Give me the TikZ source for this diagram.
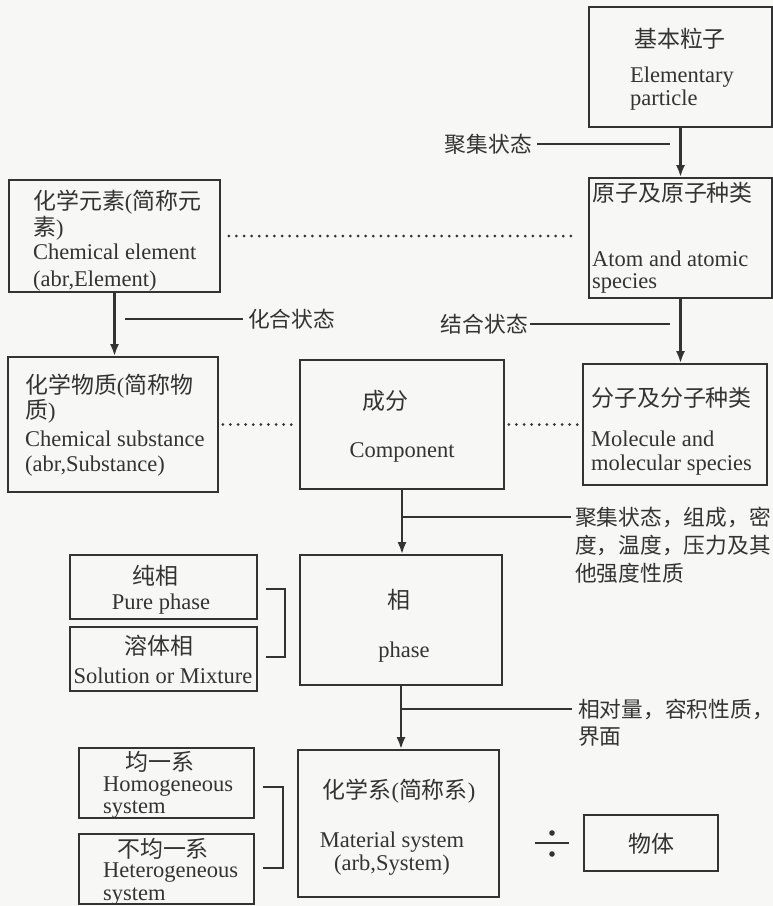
\documentclass[tikz,border=0pt]{standalone}
\usepackage{fontspec}
\setmainfont{Liberation Serif}
\newfontfamily\cjk[Scale=1.02]{Noto Sans CJK SC}
\usetikzlibrary{fit,calc,arrows.meta}
\definecolor{ink}{HTML}{333333}
\definecolor{bg}{HTML}{F7F7F5}
\newcommand\TL[4][base west]{\node[txt,anchor=#1] (#2) at (#3) {#4};}
\newcommand\BX[3]{\node[box,fit={(#2) (#3)}] (#1) {};}
\tikzset{
  txt/.style={inner sep=0pt,text=ink,font=\fontsize{22.5}{24}\selectfont},
  lab/.style={txt,font=\fontsize{21.3}{24}\selectfont},
  box/.style={draw=ink,line width=1.7pt,inner sep=0pt},
  arr/.style={draw=ink,line width=2.3pt,-{Latex[length=12pt,width=9pt]}},
  ln/.style={draw=ink,line width=2.3pt},
  brk/.style={draw=ink,line width=2.2pt},
  dot/.style={draw=ink,line width=3pt,line cap=round,dash pattern=on 0pt off 7.6pt}
}
\begin{document}
\begin{tikzpicture}[x=1pt,y=-1pt]
\useasboundingbox[fill=bg] (0,0) rectangle (773,906);
% boxes
\BX{b1}{589,7}{772,127}
\BX{b2}{589,178}{772,298}
\BX{b3}{583,364}{767,485}
\BX{ce}{9,180}{220,292}
\BX{cs}{8,357}{218,492}
\BX{comp}{300,360}{504,489}
\BX{phase}{300,555}{502,685}
\BX{pure}{70,555}{257,619}
\BX{sol}{70,627}{257,691}
\BX{ms}{298,750}{499,897}
\BX{homo}{79,748}{254,818}
\BX{het}{79,834}{254,904}
\BX{wt}{584,815}{718,871}
% texts
\TL[base]{t1a}{680,47}{\cjk 基本粒子}
\TL{t1b}{630,82}{Elementary}
\TL{t1c}{630,105}{particle}
\TL{t2a}{592,201}{\cjk 原子及原子种类}
\TL{t2b}{592,266}{Atom and atomic}
\TL{t2c}{592,288}{species}
\TL{t3a}{591,406}{\cjk 分子及分子种类}
\TL{t3b}{591,446}{Molecule and}
\TL{t3c}{591,470}{molecular species}
\TL{tca}{33,209}{{\cjk 化学元素}({\cjk 简称元}}
\TL{tcb}{33,235}{{\cjk 素})}
\TL{tcc}{33,259}{Chemical element}
\TL{tcd}{33,286}{(abr,Element)}
\TL{tsa}{25,393}{{\cjk 化学物质}({\cjk 简称物}}
\TL{tsb}{25,418}{{\cjk 质})}
\TL{tsc}{25,446}{Chemical substance}
\TL{tsd}{25,471}{(abr,Substance)}
\TL{tka}{362,409}{\cjk 成分}
\TL[base]{tkb}{402,457}{Component}
\TL[base]{tpa}{399,608}{\cjk 相}
\TL[base]{tpb}{404,657}{phase}
\TL[base]{tua}{155,584}{\cjk 纯相}
\TL[base]{tub}{161,609}{Pure phase}
\TL[base]{tva}{159,654}{\cjk 溶体相}
\TL[base]{tvb}{163,683}{Solution or Mixture}
\TL[base]{tha}{160,770}{\cjk 均一系}
\TL{thb}{103,791}{Homogeneous}
\TL{thc}{103,813}{system}
\TL[base]{tea}{163,857}{\cjk 不均一系}
\TL{teb}{103,877}{Heterogeneous}
\TL{tec}{103,900}{system}
\TL[base]{tma}{399,798}{{\cjk 化学系}({\cjk 简称系})}
\TL[base]{tmb}{392,847}{Material system}
\TL[base]{tmc}{392,870}{(arb,System)}
\TL[base]{tw}{651,852}{\cjk 物体}
% labels
\node[lab,anchor=base east] (l1) at (532,152) {\cjk 聚集状态};
\node[lab,anchor=base east] (l2) at (528,332) {\cjk 结合状态};
\node[lab,anchor=base west] (l3) at (248,327) {\cjk 化合状态};
\node[lab,anchor=base west] (l4a) at (575,525) {\cjk 聚集状态，组成，密};
\node[lab,anchor=base west] (l4b) at (575,553) {\cjk 度，温度，压力及其};
\node[lab,anchor=base west] (l4c) at (575,581) {\cjk 他强度性质};
\node[lab,anchor=base west] (l5a) at (578,717) {\cjk 相对量，容积性质，};
\node[lab,anchor=base west] (l5b) at (578,744) {\cjk 界面};
% arrows
\draw[arr] (b1.south) -- (b2.north);
\draw[arr] (b2.south) -- (b2.south |- b3.north);
\draw[arr] (ce.south) -- (ce.south |- cs.north);
\draw[arr] (comp.south) -- (comp.south |- phase.north);
\draw[arr] (phase.south) -- (phase.south |- ms.north);
% label lines
\draw[ln] ([xshift=5pt]l1.east) -- ([xshift=-11pt]b1.south |- l1.east);
\draw[ln] ([xshift=2pt]l2.east) -- ([xshift=-11pt]b2.south |- l2.east);
\draw[ln] ([xshift=10pt]ce.south |- l3.west) -- ([xshift=-5pt]l3.west);
\draw[ln] (comp.south |- l4a.west) -- ([xshift=-4pt]l4a.west);
\draw[ln] (phase.south |- l5a.west) -- ([xshift=-6pt]l5a.west);
% dotted
\draw[dot,shorten <=8pt,shorten >=11pt] (ce.east) -- (ce.east -| b2.west);
\draw[dot,shorten <=4pt,shorten >=4pt] (cs.east) -- (cs.east -| comp.west);
\draw[dot,shorten <=4pt,shorten >=4pt] (comp.east) -- (comp.east -| b3.west);
% brackets
\draw[brk] ($(pure.east)+(8,2)$) -- ++(19,0) |- ($(sol.east)+(8,-2)$);
\draw[brk] ($(homo.east)+(8,4)$) -- ++(20,0) |- ($(het.east)+(8,-1)$);
% division sign
\coordinate (dv) at (552,843);
\draw[ln] ($(dv)+(-17,0)$) -- ($(dv)+(17,0)$);
\fill[ink] ($(dv)+(0,-10)$) circle (2.8pt);
\fill[ink] ($(dv)+(0,11)$) circle (2.8pt);
\end{tikzpicture}
\end{document}
